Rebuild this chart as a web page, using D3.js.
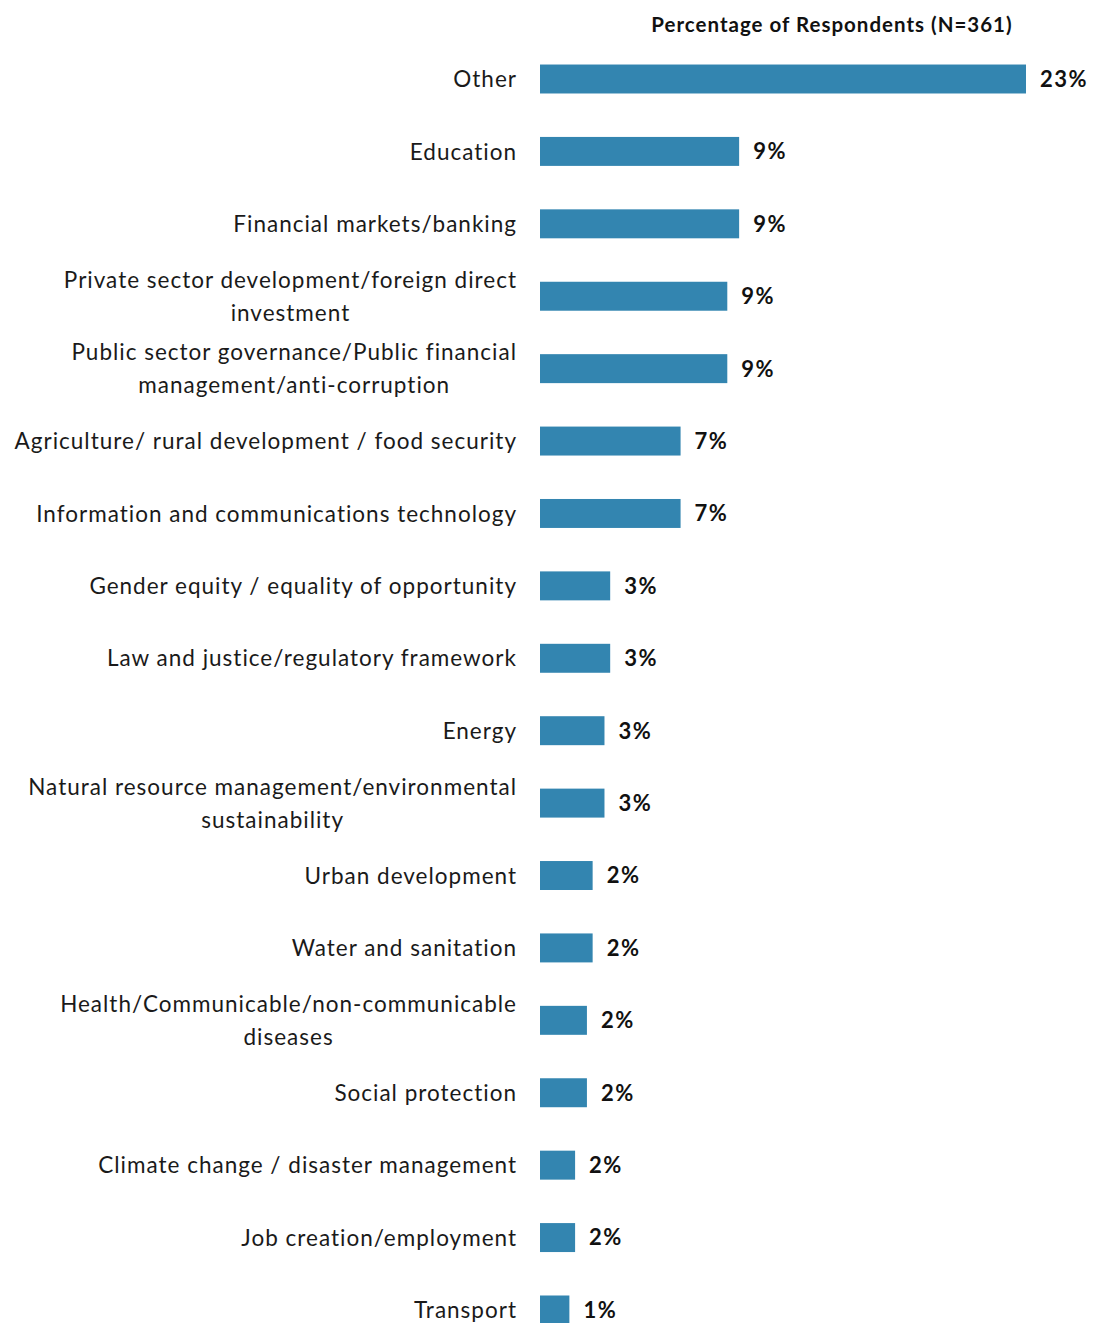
<!DOCTYPE html>
<html>
<head>
<meta charset="utf-8">
<script src="https://cdn.jsdelivr.net/npm/d3@7"></script>
<style>
  html, body { margin: 0; padding: 0; background: #fff; }
  svg { display: block; }
</style>
</head>
<body>
<svg id="chart" width="1093" height="1323"></svg>
<script>
const categories = [
  "Other",
  "Education",
  "Financial markets/banking",
  "Private sector development/foreign direct\ninvestment",
  "Public sector governance/Public financial\nmanagement/anti-corruption",
  "Agriculture/ rural development / food security",
  "Information and communications technology",
  "Gender equity / equality of opportunity",
  "Law and justice/regulatory framework",
  "Energy",
  "Natural resource management/environmental\nsustainability",
  "Urban development",
  "Water and sanitation",
  "Health/Communicable/non-communicable\ndiseases",
  "Social protection",
  "Climate change / disaster management",
  "Job creation/employment",
  "Transport"
];
const values = [22.99, 9.42, 9.42, 8.86, 8.86, 6.65, 6.65, 3.32, 3.32, 3.05, 3.05, 2.49, 2.49, 2.22, 2.22, 1.66, 1.66, 1.39];
const valueLabels = ["23%", "9%", "9%", "9%", "9%", "7%", "7%", "3%", "3%", "3%", "3%", "2%", "2%", "2%", "2%", "2%", "2%", "1%"];
const title = "Percentage of Respondents (N=361)";

const data = categories.map((c, i) => ({ cat: c, value: values[i], label: valueLabels[i] }));

const svg = d3.select("#chart");
const x0 = 540;
const x = d3.scaleLinear().domain([0, 22.99]).range([x0, 1026]);
const y = d3.scaleBand().domain(categories).range([42.8, 42.8 + 18 * 72.41]).paddingInner(0.6).paddingOuter(0.3);

const font = "Lato, 'Open Sans', sans-serif";
const ls = 1.0;

svg.append("text")
  .attr("x", 832).attr("y", 32)
  .attr("text-anchor", "middle")
  .attr("font-family", font)
  .attr("font-weight", "bold")
  .attr("font-size", 20.5)
  .attr("letter-spacing", ls)
  .attr("fill", "#111")
  .text(title);

svg.selectAll("rect.bar").data(data).join("rect")
  .attr("class", "bar")
  .attr("x", x(0))
  .attr("y", d => y(d.cat))
  .attr("width", d => x(d.value) - x(0))
  .attr("height", y.bandwidth())
  .attr("fill", "#3385b0");

svg.selectAll("text.val").data(data).join("text")
  .attr("class", "val")
  .attr("x", d => x(d.value) + 14)
  .attr("y", d => y(d.cat) + y.bandwidth() / 2)
  .attr("dy", "0.36em")
  .attr("font-family", font)
  .attr("font-weight", "bold")
  .attr("font-size", 22)
  .attr("letter-spacing", 1.5)
  .attr("fill", "#111")
  .text(d => d.label);

const lineH = 33;
const rightX = 516 + ls;
const catText = svg.selectAll("text.cat").data(data).join("text")
  .attr("class", "cat")
  .attr("text-anchor", "middle")
  .attr("font-family", font)
  .attr("font-size", 22.5)
  .attr("letter-spacing", ls)
  .attr("fill", "#1a1a1a");

catText.each(function(d) {
  const lines = d.cat.split("\n");
  const t = d3.select(this);
  const cy = y(d.cat) + y.bandwidth() / 2;
  if (lines.length === 1) {
    t.attr("text-anchor", "end").append("tspan")
      .attr("x", rightX).attr("y", cy).attr("dy", "0.36em").text(lines[0]);
  } else {
    const tmp = t.append("tspan").text(lines[0]);
    const w = tmp.node().getComputedTextLength();
    tmp.remove();
    const cx = rightX - w / 2;
    lines.forEach((ln, i) => {
      t.append("tspan")
        .attr("x", cx)
        .attr("y", cy + (i - (lines.length - 1) / 2) * lineH)
        .attr("dy", "0.36em")
        .text(ln);
    });
  }
});
</script>
</body>
</html>
